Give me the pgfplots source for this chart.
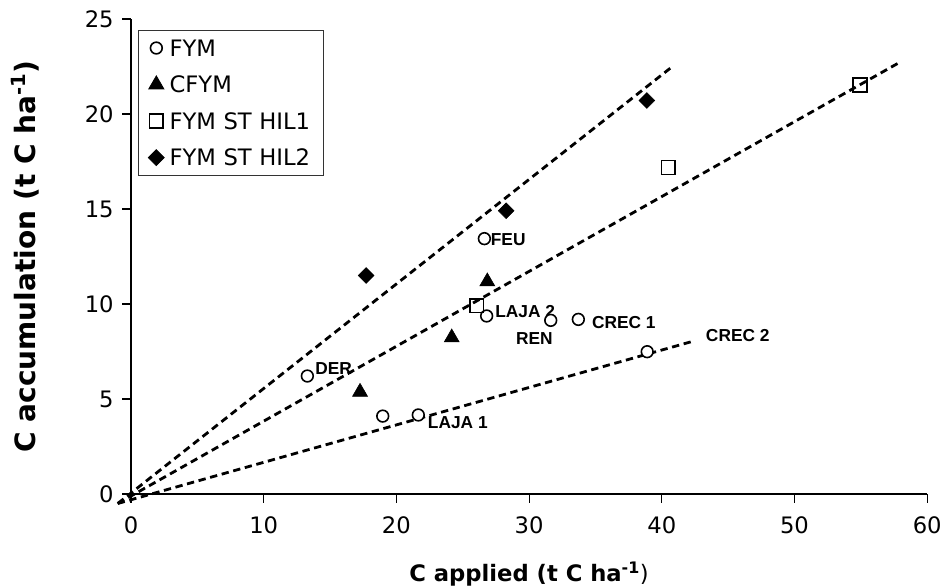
\documentclass[border=0pt]{standalone}
\usepackage{fontspec}
\setmainfont{DejaVu Sans}
\newfontfamily\lblfont{Liberation Sans}
\usepackage{pgfplots}
\pgfplotsset{compat=1.18}

\begin{document}
\begin{tikzpicture}
\path[use as bounding box] (-98.25pt,-69.75pt) rectangle (612pt,370.5pt);
\begin{axis}[
  anchor=origin, at={(0,0)},
  x=9.9525pt, y=14.25pt,
  xmin=0, xmax=60, ymin=0, ymax=25,
  axis x line=bottom, axis y line=left,
  axis line style={-, line width=0.8pt},
  xtick={0,10,...,60}, ytick={0,5,...,25},
  tick align=outside, major tick length=6.5pt,
  tick style={line width=0.8pt, black},
  clip=false,
  ticklabel style={font=\fontsize{17}{20}\selectfont},
  xticklabel style={yshift=-7pt},
  yticklabel style={xshift=-3pt},
  /pgf/number format/assume math mode=true,
  xlabel={\textbf{C applied (t C ha\textsuperscript{-1}})},
  xlabel style={at={(axis description cs:0.5,-0.1684)}, anchor=center,
    font=\fontsize{17}{20}\selectfont},
  ylabel={\textbf{C accumulation (t C ha\textsuperscript{-1})}},
  ylabel style={at={(axis description cs:-0.1332,0.5)}, anchor=center, rotate=0,
    font=\fontsize{21}{24}\selectfont},
  legend cell align=left,
  legend image code/.code={\draw[#1, only marks] plot coordinates {(0pt,0pt)};},
  legend style={at={(axis description cs:0.0088,0.9768)}, anchor=north west,
    draw=black!80, line width=0.6pt, font=\fontsize{17}{20}\selectfont,
    inner xsep=7.5pt, inner ysep=5pt, row sep=11pt,
    nodes={inner sep=2pt, text height=12.4pt, text depth=0pt},
    /tikz/every odd column/.append style={column sep=2pt},
    /tikz/every even column/.append style={text width=106pt}},
]
% regression lines
\addplot[black, line width=2.1pt, dash pattern=on 5.5pt off 3.5pt, forget plot]
  coordinates {(-1,-0.5) (40.8,22.5)};
\addplot[black, line width=2.1pt, dash pattern=on 5.5pt off 3.5pt, forget plot]
  coordinates {(-1,-0.5) (57.8,22.67)};
\addplot[black, line width=2.1pt, dash pattern=on 5.5pt off 3.5pt, forget plot]
  coordinates {(-1,-0.5) (42.5,8.07)};

% FYM
\addplot[only marks, mark=*, mark size=4.4pt,
  mark options={draw=black, fill=white, line width=1.2pt}]
  coordinates {(13.29,6.21) (18.97,4.10) (21.65,4.16) (26.63,13.44)
               (26.80,9.37) (31.63,9.14) (33.71,9.19) (38.90,7.49)};
\addlegendentry{FYM}
% CFYM
\addplot[only marks, mark=triangle*, mark size=6.5pt,
  mark options={draw=black, fill=black}]
  coordinates {(17.26,5.37) (24.17,8.23) (26.85,11.18)};
\addlegendentry{CFYM}
% FYM ST HIL1
\addplot[only marks, mark=square, mark size=5.2pt,
  mark options={draw=black, fill=white, line width=1.2pt}]
  coordinates {(26.05,9.91) (40.49,17.19) (54.94,21.53)};
\addlegendentry{FYM ST HIL1}
% FYM ST HIL2
\addplot[only marks, mark=square*, mark size=4.2pt,
  mark options={draw=black, fill=black, rotate=45}]
  coordinates {(17.72,11.50) (28.27,14.91) (38.87,20.71)};
\addlegendentry{FYM ST HIL2}

% site names
\begin{scope}[every node/.style={anchor=west, inner sep=0pt,
    font=\lblfont\bfseries\fontsize{13}{15}\selectfont}]
\node at (axis cs:13.87,6.60) {DER};
\node at (axis cs:27.10,13.37) {FEU};
\node at (axis cs:27.43,9.63) {LAJA 2};
\node at (axis cs:29.00,8.16) {REN};
\node at (axis cs:22.36,3.74) {LAJA 1};
\node at (axis cs:34.72,9.05) {CREC 1};
\node at (axis cs:43.31,8.34) {CREC 2};
\end{scope}
\end{axis}
\end{tikzpicture}
\end{document}
